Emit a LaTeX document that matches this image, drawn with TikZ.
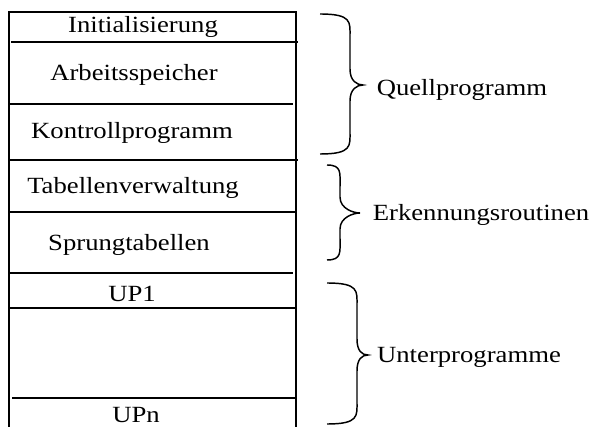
\documentclass[tikz,border=0pt]{standalone}
\usepackage{fontspec}
\setmainfont{Liberation Serif}[FakeStretch=1.15]
\begin{document}
\begin{tikzpicture}[x=0.75pt,y=-0.75pt,
  rule/.style={line width=1.1pt},
  brc/.style={line width=1.1pt},
  lbl/.style={inner sep=0pt,font=\fontsize{17.4}{19}\selectfont}]
\useasboundingbox (0,0) rectangle (592,427);
% box
\draw[rule] (9,427) -- (9,12) -- (296,12) -- (296,427);
\draw[rule] (11,42) -- (298,42);
\draw[rule] (10,104) -- (293,104);
\draw[rule] (9,160) -- (298,160);
\draw[rule] (9,212) -- (296,212);
\draw[rule] (9,273) -- (293,273);
\draw[rule] (9,308) -- (296,308);
\draw[rule] (12,398) -- (296,398);
% labels in box
\node[lbl] (init) at (143,27) {Initialisierung};
\node[lbl] (arb) at (134,75) {Arbeitsspeicher};
\node[lbl] (kon) at (132,133) {Kontrollprogramm};
\node[lbl] (tab) at (133,188) {Tabellenverwaltung};
\node[lbl] (spr) at (129,245) {Sprungtabellen};
\node[lbl] (up1) at (132,294) {UP1};
\node[lbl] (upn) at (136,415) {UPn};
% braces
\newcommand{\mybrace}[6]{%
 \draw[brc] (#1,#4) .. controls (#2+2,#4) and (#2,#4+8) .. (#2,#4+22)
   -- (#2,#5-16) .. controls (#2,#5-4) and (#3-6,#5) .. (#3,#5)
   .. controls (#3-6,#5) and (#2,#5+4) .. (#2,#5+16)
   -- (#2,#6-22) .. controls (#2,#6-8) and (#2+2,#6) .. (#1,#6);}
\mybrace{320}{350}{363}{14}{85}{154}
\mybrace{327}{340}{360}{165}{213}{260}
\mybrace{327}{357}{368}{283}{355}{424}
% group labels
\node[lbl] (quell) at (462,90) {Quellprogramm};
\node[lbl] (erk) at (481,215) {Erkennungsroutinen};
\node[lbl] (unter) at (469,357) {Unterprogramme};
\end{tikzpicture}
\end{document}
